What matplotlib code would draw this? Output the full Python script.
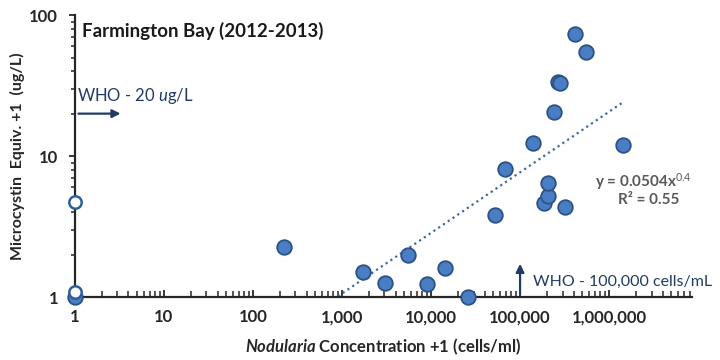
import numpy as np
import matplotlib
matplotlib.use("Agg")
import matplotlib.pyplot as plt
from matplotlib.ticker import FixedLocator, FuncFormatter, LogLocator, NullFormatter

plt.rcParams['font.family'] = ['Lato', 'DejaVu Sans']
plt.rcParams['mathtext.fontset'] = 'custom'
plt.rcParams['mathtext.rm'] = 'Lato'
plt.rcParams['mathtext.it'] = 'Lato:italic'
plt.rcParams['mathtext.bf'] = 'Lato:bold'
plt.rcParams['mathtext.bfit'] = 'Lato:bold:italic'

# Nodularia (cells/ml +1) vs microcystin (ug/L +1)
nod_cells = [223, 1740, 3040, 5560, 8960, 14400, 26300, 52000, 68000, 141000,
             186000, 208000, 208000, 243000, 265000, 281000, 320000, 415000,
             552000, 1430000, 1]
microcystin = [2.26, 1.51, 1.25, 1.99, 1.23, 1.60, 1.0, 3.82, 8.05, 12.4,
               4.62, 5.2, 6.47, 20.4, 33.6, 32.8, 4.37, 73.0,
               55.0, 12.0, 1.0]

# samples below detection (open symbols at x = 1)
open_x = [1, 1]
open_y = [4.7, 1.08]

# power trend line as drawn
trend_coef = 0.0543
trend_exp = 0.43
trend_xrange = [900, 1.45e6]

x_ticks = [1, 10, 100, 1000, 10000, 100000, 1000000]
y_ticks = [1, 10, 100]

fill_col = '#4A7EC4'
edge_col = '#2B5283'
navy = '#1F3B66'

fig = plt.figure(figsize=(7.2, 3.6), dpi=100)
ax = fig.add_axes([0.104, 0.175, 0.857, 0.783])
ax.set_xscale('log')
ax.set_yscale('log')
ax.set_xlim(1, 10 ** 6.93)
ax.set_ylim(1, 100)

tx = np.logspace(np.log10(trend_xrange[0]), np.log10(trend_xrange[1]), 200)
ax.plot(tx, trend_coef * tx ** trend_exp, ls=(0, (1, 1.6)), color='#3D6AA8',
        lw=1.6, zorder=2)

ax.scatter(nod_cells, microcystin, s=110, facecolor=fill_col, edgecolor=edge_col,
           linewidth=1.3, zorder=3, clip_on=False)
ax.scatter(open_x, open_y, s=80, facecolor='white', edgecolor='#2F5F9A',
           linewidth=1.8, zorder=4, clip_on=False)

for s in ['top', 'right']:
    ax.spines[s].set_visible(False)
for s in ['left', 'bottom']:
    ax.spines[s].set_linewidth(1.6)
    ax.spines[s].set_color('#262626')

ax.xaxis.set_major_locator(FixedLocator(x_ticks))
ax.xaxis.set_major_formatter(FuncFormatter(lambda v, p: f"{int(round(v)):,}"))
ax.xaxis.set_minor_locator(LogLocator(base=10, subs=np.arange(2, 10)))
ax.xaxis.set_minor_formatter(NullFormatter())
ax.yaxis.set_major_locator(FixedLocator(y_ticks))
ax.yaxis.set_major_formatter(FuncFormatter(lambda v, p: f"{int(round(v))}"))
ax.yaxis.set_minor_locator(LogLocator(base=10, subs=np.arange(2, 10)))
ax.yaxis.set_minor_formatter(NullFormatter())

ax.tick_params(axis='x', which='both', direction='in', color='#262626')
ax.tick_params(axis='x', which='major', length=5, width=1.3, pad=9)
ax.tick_params(axis='x', which='minor', length=4, width=1.1)
ax.tick_params(axis='y', which='both', direction='out', color='#262626')
ax.tick_params(axis='y', which='major', length=4, width=1.3, pad=8)
ax.tick_params(axis='y', which='minor', length=3, width=1.1)
for lab in ax.get_xticklabels() + ax.get_yticklabels():
    lab.set_fontweight('bold')
    lab.set_fontsize(12)
    lab.set_color('#262626')

ax.set_xlabel(r"$\mathbfit{Nodularia}$ Concentration +1 (cells/ml)",
              fontsize=12, fontweight='bold', color='#262626', labelpad=8)
ax.set_ylabel("Microcystin  Equiv. +1  (ug/L)", fontsize=11.5, fontweight='bold',
              color='#262626', labelpad=3)

ax.text(0.012, 0.975, "Farmington Bay (2012-2013)", transform=ax.transAxes,
        fontsize=13.5, fontweight='bold', color='#1a1a1a', va='top', ha='left')

# WHO guidance markers
ax.annotate("", xy=(3.5, 20), xytext=(1.02, 20),
            arrowprops=dict(arrowstyle='-|>', color=navy, lw=1.6,
                            mutation_scale=12), annotation_clip=False)
ax.text(1.07, 26.5, r"WHO - 20 $\mathit{u}$g/L", fontsize=12, color=navy,
        ha='left', va='center')
ax.annotate("", xy=(1e5, 1.8), xytext=(1e5, 1.0),
            arrowprops=dict(arrowstyle='-|>', color=navy, lw=1.6,
                            mutation_scale=12), annotation_clip=False)
ax.text(1.38e5, 1.27, "WHO - 100,000 cells/mL", fontsize=11.5, color=navy,
        ha='left', va='center')

ax.text(1.0, 0.408, r"y = 0.0504x$^{0.4}$", transform=ax.transAxes,
        fontsize=11, fontweight='bold', color='#595959', ha='right', va='center')
ax.text(0.98, 0.344, "R² = 0.55", transform=ax.transAxes,
        fontsize=11, fontweight='bold', color='#595959', ha='right', va='center')

fig.savefig("out.png", dpi=100)
